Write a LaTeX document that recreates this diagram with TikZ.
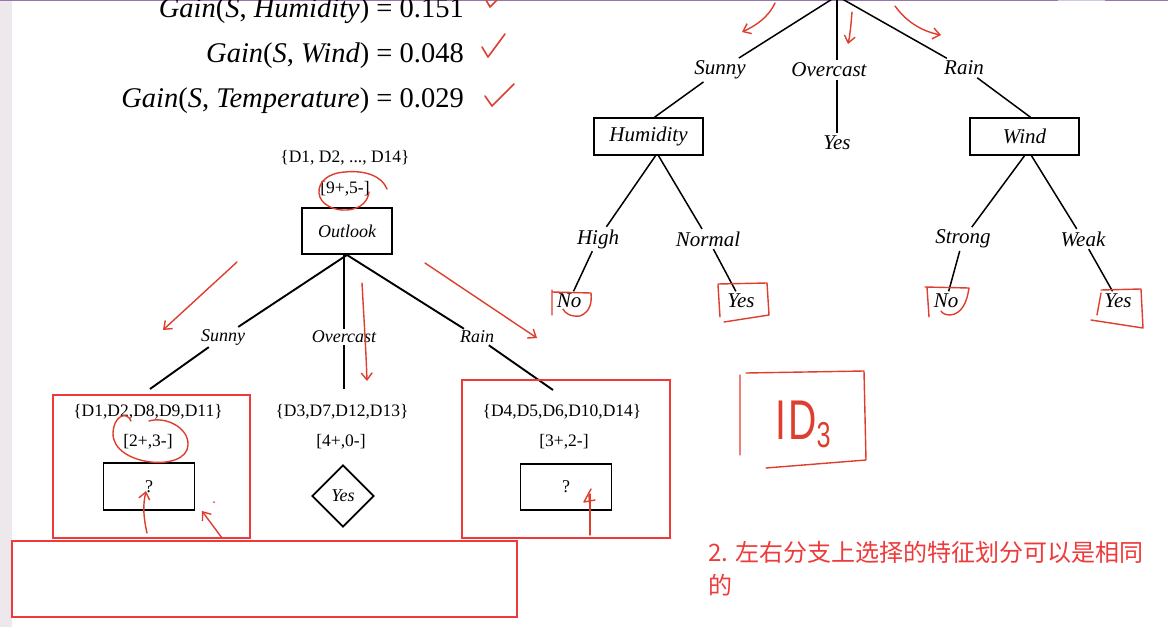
\documentclass[tikz,border=0pt]{standalone}
\usepackage{fontspec}
\setmainfont{Liberation Serif}
\newfontfamily\cjk{Noto Sans CJK SC}
\newfontfamily\hand{Liberation Sans}
\usepackage{graphicx}
\usetikzlibrary{shapes.geometric,arrows.meta}
\definecolor{annot}{RGB}{222,62,45}
\definecolor{frameRed}{RGB}{238,58,58}
\definecolor{stripGray}{RGB}{236,232,236}
\definecolor{topLine}{RGB}{150,118,172}
\begin{document}
\begin{tikzpicture}[x=1pt,y=-1pt,
  lab/.style={font=\fontsize{18}{20}\selectfont\itshape, inner sep=2pt},
  rlab/.style={font=\fontsize{21}{23}\selectfont\itshape, inner sep=2.5pt},
  setlab/.style={font=\fontsize{17.5}{19}\selectfont, inner sep=1pt},
  abox/.style={draw, line width=1.9pt, minimum width=90pt, minimum height=46pt, inner sep=0pt},
  rbox/.style={draw, line width=1.5pt, minimum width=109pt, minimum height=37pt, inner sep=0pt, font=\fontsize{21}{23}\selectfont\itshape},
  treeline/.style={line width=1.9pt},
  rline/.style={line width=1.5pt},
  redpen/.style={draw=annot, line width=1.4pt, line cap=round, line join=round},
  redarrow/.style={redpen, -{Straight Barb[length=7pt,width=11pt]}},
  redframe/.style={draw=frameRed, line width=2pt},
  gainlab/.style={anchor=base east, inner sep=0pt, font=\fontsize{28.5}{31}\selectfont}
]
\useasboundingbox (0,0) rectangle (1168,627);
\fill[white] (0,0) rectangle (1168,627);
\fill[stripGray] (0,0) rectangle (12,627);
\draw[topLine, line width=2.5pt] (0,0) -- (1058,0);
\draw[topLine!40, line width=2.5pt] (1058,0) -- (1105,0);
\draw[topLine, line width=2.5pt] (1105,0) -- (1168,0);

% gains
\node[gainlab] (g1) at (464,17) {\textit{Gain}(\textit{S}, \textit{Humidity}) = 0.151};
\node[gainlab] (g2) at (464,62) {\textit{Gain}(\textit{S}, \textit{Wind}) = 0.048};
\node[gainlab] (g3) at (464,107) {\textit{Gain}(\textit{S}, \textit{Temperature}) = 0.029};
\draw[redpen, line width=1.6pt] (486,0) -- (490,7) -- (497,0);
\draw[redpen, line width=1.6pt] (482,47) -- (488,57) -- (505,34);
\draw[redpen, line width=1.6pt] (485,96) -- (492,106) -- (514,84);

% left tree
\node[setlab] (all) at (345,158) {\{D1, D2, ..., D14\}};
\node[setlab] (allc) at (345,189) {[9+,5-]};
\node[abox] (outlook) at (347,231) {\fontsize{18}{20}\selectfont\itshape Outlook};
\node[lab] (lsunny) at (223,337) {Sunny};
\node[lab] (lover) at (344,337) {Overcast};
\node[lab] (lrain) at (477,337) {Rain};
\coordinate (e1) at (150,389);
\coordinate (e2) at (344,389);
\coordinate (e3) at (553,390);
\draw[treeline] (outlook.south) -- (lsunny) -- (e1);
\draw[treeline] (outlook.south -| lover) -- (lover) -- (e2);
\draw[treeline] (outlook.south) -- (lrain) -- (e3);

\node[setlab] (s1) at (148,412) {\{D1,D2,D8,D9,D11\}};
\node[setlab] (c1) at (148,442) {[2+,3-]};
\node[abox, minimum width=91pt, minimum height=47pt] (q1) at (149,486.5) {\fontsize{18}{20}\selectfont ?};
\node[setlab] (s2) at (342,412) {\{D3,D7,D12,D13\}};
\node[setlab] (c2) at (341,442) {[4+,0-]};
\node[diamond, draw, line width=1.9pt, minimum width=62pt, minimum height=62pt, inner sep=0pt, font=\fontsize{18}{20}\selectfont\itshape] (yes0) at (343,496) {Yes};
\node[setlab] (s3) at (562,412) {\{D4,D5,D6,D10,D14\}};
\node[setlab] (c3) at (564,442) {[3+,2-]};
\node[abox, minimum width=91pt, minimum height=46pt] (q2) at (566,487) {\fontsize{18}{20}\selectfont ?};

% right tree
\coordinate (rroot) at (837,-4);
\node[rlab] (rsunny) at (720,70) {Sunny};
\node[rlab] (rover) at (829,70) {Overcast};
\node[rlab] (rrain) at (964,68) {Rain};
\node[rbox] (hum) at (648.5,136.5) {Humidity};
\node[rlab] (ryes) at (837,143) {Yes};
\node[rbox] (wind) at (1024.5,136.5) {Wind};
\node[rlab] (high) at (598,239) {High};
\node[rlab] (normal) at (708,239) {Normal};
\node[rlab] (strong) at (963,239) {Strong};
\node[rlab] (weak) at (1083,239) {Weak};
\node[rlab] (no1) at (569,301) {No};
\node[rlab] (yes1) at (741,301) {Yes};
\node[rlab] (no2) at (946,301) {No};
\node[rlab] (yes2) at (1118,301) {Yes};

\draw[rline] (rroot) -- (rsunny) -- ([xshift=6pt]hum.north);
\draw[rline] (rroot) -- (rroot |- rover.north);
\draw[rline] (rroot |- rover.south) -- (rroot |- ryes.north);
\draw[rline] (rroot) -- (rrain) -- ([xshift=6pt]wind.north);
\draw[rline] ([xshift=7pt]hum.south) -- (high) -- (no1);
\draw[rline] ([xshift=10pt]hum.south) -- (normal) -- (yes1);
\draw[rline] (wind.south) -- (strong) -- (no2);
\draw[rline] ([xshift=7pt]wind.south) -- (weak) -- (yes2);

% red frames
\draw[redframe] (53,395) rectangle (250,538);
\draw[redframe] (462,380) rectangle (670,538);
\draw[redframe] (12,541) rectangle (517,617);

% red handwritten annotations, left tree
\draw[redpen] (387,189) .. controls (382,176) and (365,170) .. (345,172) .. controls (328,173) and (318,182) .. (319,193) .. controls (320,205) and (335,211) .. (347,210) .. controls (361,209) and (368,201) .. (369,192);
\draw[redpen] (131,421) .. controls (127,411) and (114,415) .. (113,433) .. controls (112,466) and (187,473) .. (188,445) .. controls (189,428) and (166,416) .. (149,421);
\draw[redarrow] (237,262) -- (163,330);
\draw[redarrow] (362,283) .. controls (364,320) and (366,350) .. (367,381);
\draw[redarrow] (425,263) -- (537,338);
\draw[redarrow] (147,533) .. controls (143,515) and (143,505) .. (146,491);
\draw[redarrow] (222,538) -- (202,511);
\fill[annot] (214,502) circle (1pt);
\draw[redpen] (590,535) -- (590,494);
\draw[redpen] (591,489) -- (584,502) -- (595,500) (589,496) -- (590,507);

% red annotations, right tree
\draw[redarrow] (775,3) .. controls (768,18) and (755,26) .. (742,32);
\draw[redarrow] (852,12) .. controls (851,25) and (850,35) .. (848,44);
\draw[redarrow] (895,6) .. controls (905,20) and (920,31) .. (941,35);
\draw[redpen] (552,290) -- (552,315) (552,292) -- (591,293) .. controls (592,303) and (590,312) .. (580,316) .. controls (570,317) and (565,313) .. (563,309);
\draw[redpen] (718,285) -- (720,317) (718,284) -- (767,283) -- (769,315) -- (724,322);
\draw[redpen] (927,287) -- (929,317) (925,287) -- (969,288) .. controls (967,302) and (962,314) .. (950,315) .. controls (945,315) and (942,313) .. (941,311);
\draw[redpen] (1101,293) -- (1097,315) (1101,290) -- (1141,289) -- (1143,328) -- (1091,320);

% ID3
\draw[redpen] (740,375) -- (740,455) (746,373) -- (864,371) -- (866,460) -- (766,468);
\node[text=annot, inner sep=0pt, font=\hand\fontsize{56}{60}\selectfont] (id3) at (803,424) {\scalebox{0.7}[1]{I\hspace{3pt}D\raisebox{-8pt}{\fontsize{36}{40}\selectfont 3}}};

% note
\node[anchor=north west, align=left, inner sep=0pt, text=frameRed, font=\cjk\fontsize{24}{33}\selectfont] (note) at (708,541) {2. 左右分支上选择的特征划分可以是相同\\的};
\end{tikzpicture}
\end{document}
